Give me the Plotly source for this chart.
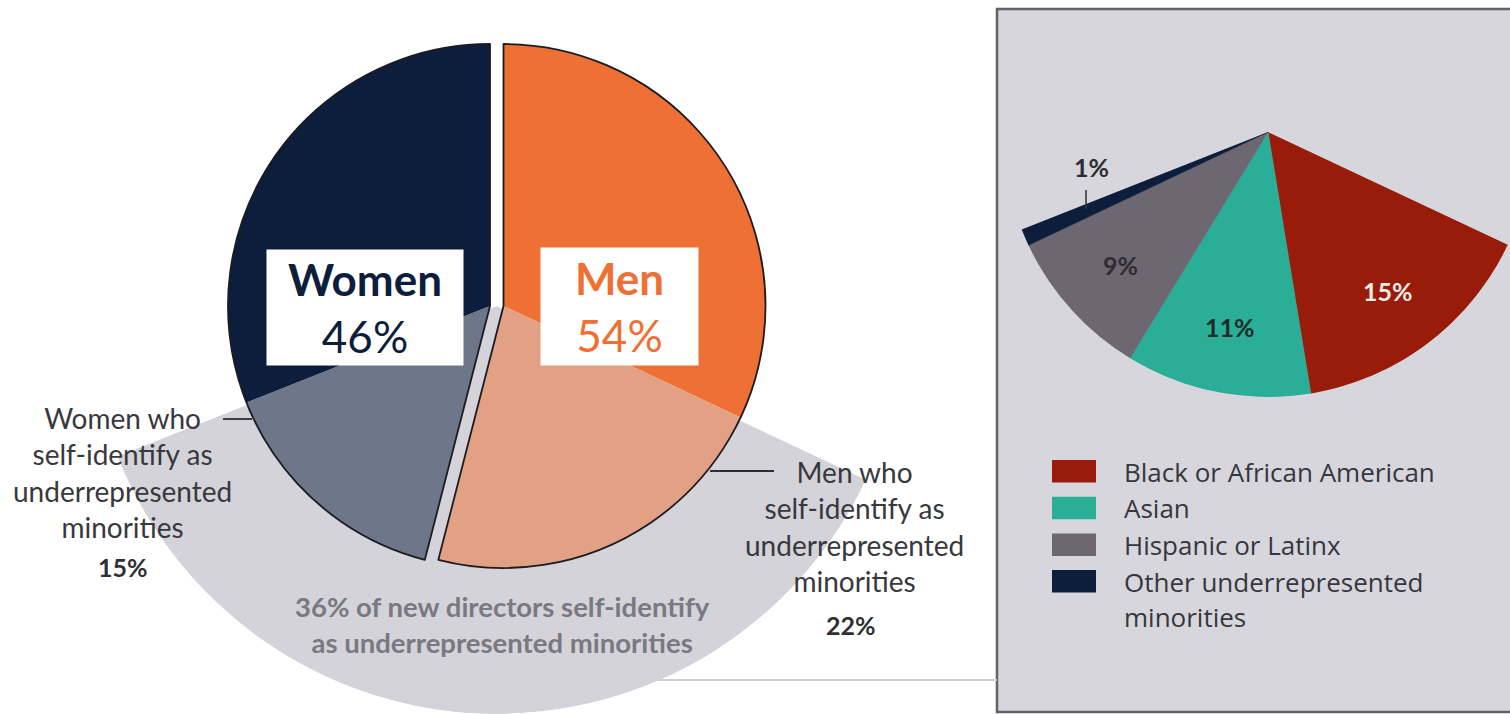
import numpy as np
import plotly.graph_objects as go

W, H = 1510, 714

# New directors by gender, clockwise from 12 o'clock (%)
segment_names = [
    "Men",
    "Men who self-identify as underrepresented minorities",
    "Women who self-identify as underrepresented minorities",
    "Women",
]
segment_gender = ["Men", "Men", "Women", "Women"]
segment_values = [32, 22, 15, 31]
segment_colors = ["#ee7034", "#e2a084", "#6e778a", "#0c1e3c"]
urm_headline = 36

# Underrepresented-minority breakdown (%)
urm_categories = [
    "Black or African American",
    "Asian",
    "Hispanic or Latinx",
    "Other underrepresented\nminorities",
]
urm_values = [15, 11, 9, 1]
urm_colors = ["#991b0a", "#2bae98", "#6c6771", "#0c1e3c"]
urm_label_colors = ["#f3ebe6", "#1d2b2c", "#2d2d33", "#2d2d33"]

CLEAR = "rgba(0,0,0,0)"
LEFT_FONT = "Lato"
RIGHT_FONT = "Open Sans"


def fx(x):
    return x / W


def fy(y):
    return 1 - y / H


def sector_bbox(a0, a1):
    angs = np.radians(np.linspace(a0, a1, 1441))
    xs = np.concatenate([[0.0], np.cos(angs)])
    ys = np.concatenate([[0.0], np.sin(angs)])
    return xs.min(), ys.min(), xs.max(), ys.max()


def polar_frame(cx, cy, radius, start_cw, end_cw):
    """Domain and sector for a polar subplot whose apex sits at (cx, cy) px."""
    sector = [90 - end_cw, 90 - start_cw]
    x0, y0, x1, y1 = sector_bbox(*sector)
    dom_x = [max(0.0, fx(cx + radius * x0)), min(1.0, fx(cx + radius * x1))]
    dom_y = [max(0.0, fy(cy - radius * y0)), min(1.0, fy(cy - radius * y1))]
    return dict(domain=dict(x=dom_x, y=dom_y), sector=sector)


def pie_domain(cx, cy, r):
    return dict(x=[fx(cx - r), fx(cx + r)], y=[fy(cy + r), fy(cy - r)])


fig = go.Figure()

# ---- main gender pie: two halves drawn apart ----
pie_r = 262
pie_cy = 306
half_centers = {"Men": 503.5, "Women": 490.0}
group_totals = {g: sum(v for v, gg in zip(segment_values, segment_gender) if gg == g)
                for g in ["Men", "Women"]}

# gray fan behind the pie for the URM share
urm_start = segment_values[0] * 3.6
urm_span = (segment_values[1] + segment_values[2]) * 3.6
fan_cx = (half_centers["Men"] + half_centers["Women"]) / 2
fan_r = 408
fan_frame = polar_frame(fan_cx, pie_cy, fan_r, urm_start, urm_start + urm_span)
fig.add_trace(go.Barpolar(
    r=[1], theta=[urm_start + urm_span / 2], width=[urm_span], base=0,
    marker=dict(color="#d4d3d9", line=dict(width=0)),
    subplot="polar", hoverinfo="skip", showlegend=False,
))

for gender in ["Men", "Women"]:
    dom = pie_domain(half_centers[gender], pie_cy, pie_r)
    colors = [c if g == gender else CLEAR for c, g in zip(segment_colors, segment_gender)]
    fig.add_trace(go.Pie(
        values=segment_values, labels=segment_names, sort=False,
        direction="clockwise", rotation=0, domain=dom,
        marker=dict(colors=colors, line=dict(width=0)),
        textinfo="none", hoverinfo="skip", showlegend=False,
    ))

for gender in ["Men", "Women"]:
    dom = pie_domain(half_centers[gender], pie_cy, pie_r)
    fig.add_trace(go.Pie(
        values=[group_totals["Men"], group_totals["Women"]],
        labels=["Men", "Women"], sort=False,
        direction="clockwise", rotation=0, domain=dom,
        marker=dict(
            colors=[CLEAR, CLEAR],
            line=dict(color=["#1b1b22", "#1b1b22"],
                      width=[1.8 if g == gender else 0 for g in ["Men", "Women"]]),
        ),
        textinfo="none", hoverinfo="skip", showlegend=False,
    ))

# ---- URM breakdown fan ----
rf_cx, rf_cy, rf_r = 1268, 132, 265
urm_sum = sum(urm_values)
urm_widths = [v / urm_sum * urm_span for v in urm_values]
urm_theta = []
acc = urm_start
for w in urm_widths:
    urm_theta.append(acc + w / 2)
    acc += w
right_frame = polar_frame(rf_cx, rf_cy, rf_r, urm_start, urm_start + urm_span)
fig.add_trace(go.Barpolar(
    r=[1] * len(urm_values), theta=urm_theta, width=urm_widths, base=0,
    marker=dict(color=urm_colors, line=dict(color=urm_colors, width=0.6)),
    subplot="polar2", hoverinfo="skip", showlegend=False,
))

axis_off = dict(
    angularaxis=dict(visible=False, direction="clockwise", rotation=90,
                     showgrid=False, showline=False, ticks=""),
    radialaxis=dict(visible=False, range=[0, 1], showgrid=False,
                    showline=False, ticks=""),
    bgcolor=CLEAR, bargap=0, hole=0,
)

shapes = []
annotations = []

# right panel frame
shapes.append(dict(type="rect", xref="paper", yref="paper", layer="below",
                   x0=fx(997), x1=fx(1520), y0=fy(712), y1=fy(9),
                   fillcolor="#d7d6dc", line=dict(color="#626166", width=2.5)))
# connector line into the panel
shapes.append(dict(type="line", xref="paper", yref="paper", layer="below",
                   x0=fx(600), x1=fx(997), y0=fy(680), y1=fy(680),
                   line=dict(color="#cfcfd2", width=2)))

# leader lines for the URM labels on the main pie
shapes.append(dict(type="line", xref="paper", yref="paper",
                   x0=fx(223), x1=fx(252), y0=fy(419), y1=fy(419),
                   line=dict(color="#2e2e33", width=1.8)))
shapes.append(dict(type="line", xref="paper", yref="paper",
                   x0=fx(710), x1=fx(774), y0=fy(471), y1=fy(471),
                   line=dict(color="#2e2e33", width=1.8)))


def note(x, y, text, size, color, family=LEFT_FONT, **kw):
    d = dict(x=fx(x), y=fy(y), xref="paper", yref="paper", text=text,
             showarrow=False, xanchor="center", yanchor="middle",
             font=dict(family=family, size=size, color=color))
    d.update(kw)
    annotations.append(d)


# gender headline boxes
note(365, 307.5, f"<b>Women</b><br>{group_totals['Women']}%", 44, "#0c1e3c",
     bgcolor="white", width=196, height=115, borderpad=0, align="center")
note(619.5, 306.5, f"<b>Men</b><br>{group_totals['Men']}%", 44, "#ee7034",
     bgcolor="white", width=157, height=117, borderpad=0, align="center")

# URM labels on the main pie
note(122, 472, "Women who<br>self-identify as<br>underrepresented<br>minorities", 28, "#38383d")
note(123, 567, f"<b>{segment_values[2]}%</b>", 25, "#2f2f33")
note(854, 526, "Men who<br>self-identify as<br>underrepresented<br>minorities", 28, "#38383d")
note(851, 625, f"<b>{segment_values[1]}%</b>", 25, "#2f2f33")
note(502, 624, f"<b>{urm_headline}% of new directors self-identify<br>as underrepresented minorities</b>",
     27.5, "#7a7880")

# value labels inside the breakdown fan
for v, th, col in zip(urm_values[:3], urm_theta[:3], urm_label_colors[:3]):
    rr = 0.75 * rf_r
    lx = rf_cx + rr * np.sin(np.radians(th))
    ly = rf_cy - rr * np.cos(np.radians(th))
    note(lx, ly, f"<b>{v}%</b>", 25, col)
# the thin slice gets an outside label with a tick
note(1091, 167, f"<b>{urm_values[3]}%</b>", 25, urm_label_colors[3])
shapes.append(dict(type="line", xref="paper", yref="paper",
                   x0=fx(1086), x1=fx(1086), y0=fy(190), y1=fy(209),
                   line=dict(color="#3a3a40", width=1.6)))

# legend
leg_top = 460
leg_step = 36.7
for i, (cat, col) in enumerate(zip(urm_categories, urm_colors)):
    top = leg_top + i * leg_step
    shapes.append(dict(type="rect", xref="paper", yref="paper",
                       x0=fx(1052), x1=fx(1096), y0=fy(top + 22.5), y1=fy(top),
                       fillcolor=col, line=dict(width=0)))
    for j, line in enumerate(cat.split("\n")):
        note(1122, top + 11.5 + j * 35, line, 26, "#36363c", family=RIGHT_FONT,
             xanchor="left")

fig.update_layout(
    width=W, height=H,
    margin=dict(l=0, r=0, t=0, b=0),
    paper_bgcolor="white", plot_bgcolor="white",
    showlegend=False,
    polar=dict(**fan_frame, **axis_off),
    polar2=dict(**right_frame, **axis_off),
    shapes=shapes,
    annotations=annotations,
)

fig.write_html("out.html")
